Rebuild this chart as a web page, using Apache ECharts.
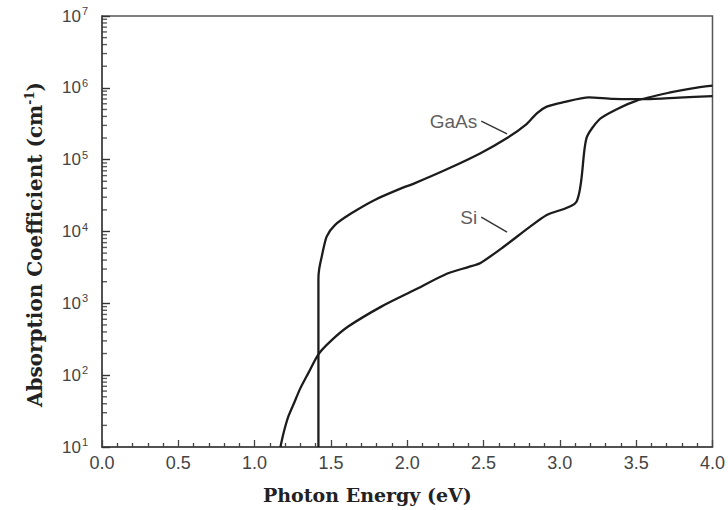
<!DOCTYPE html>
<html>
<head>
<meta charset="utf-8">
<script src="https://cdn.jsdelivr.net/npm/echarts@6/dist/echarts.min.js"></script>
<style>
html,body{margin:0;padding:0;background:#fff;}
#chart{width:728px;height:510px;}
</style>
</head>
<body>
<div id="chart"></div>
<script>
// ---- data ----
const gaasEnergy = [1.418, 1.418, 1.423, 1.44, 1.472, 1.526, 1.634, 1.787, 1.96, 2.047, 2.263, 2.48, 2.654, 2.784, 2.849, 2.914, 3.022, 3.19, 3.35, 3.564, 3.78, 4.0];
const gaasAlpha  = [10, 2200, 3000, 4500, 8500, 12300, 17900, 27500, 39800, 46800, 74000, 123000, 200000, 316000, 442000, 547000, 630000, 738000, 700000, 695000, 730000, 765000];

const siEnergy = [1.169, 1.19, 1.22, 1.26, 1.30, 1.35, 1.418, 1.50, 1.613, 1.83, 2.047, 2.263, 2.40, 2.48, 2.632, 2.805, 2.914, 3.109, 3.174, 3.26, 3.37, 3.5, 3.716, 3.868, 4.0];
const siAlpha  = [10, 15.8, 26.3, 41.7, 66, 105, 195, 300, 475, 900, 1530, 2600, 3200, 3650, 6140, 11700, 17000, 26000, 198000, 365000, 500000, 660000, 855000, 984000, 1070000];

const xTickLabels = ['0.0','0.5','1.0','1.5','2.0','2.5','3.0','3.5','4.0'];
const yDecades = [1, 2, 3, 4, 5, 6, 7];

const curveNames = ['GaAs', 'Si'];
const gaasLeader = [[2.485, 345000], [2.654, 228000]];
const siLeader   = [[2.485, 15900], [2.654, 9800]];

// minor tick values for the log axis (2..9 x 10^n)
const yMinorTicks = [];
for (let d = 1; d < 7; d++) {
  for (let k = 2; k <= 9; k++) yMinorTicks.push(k * Math.pow(10, d));
}

const zip = (a, b) => a.map((v, i) => [v, b[i]]);

const chart = echarts.init(document.getElementById('chart'), null, {renderer: 'svg'});

const tickFont = {fontFamily: 'Liberation Sans, Arial, sans-serif', fontSize: 18, color: '#444'};
const titleFont = {fontFamily: 'DejaVu Serif', fontWeight: 'bold', fontSize: 19, color: '#222'};
const frameColor = '#444';

chart.setOption({
  animation: false,
  backgroundColor: '#fff',
  title: {
    text: 'Photon Energy (eV)',
    left: 263,
    top: 485,
    padding: 0,
    textStyle: titleFont
  },
  grid: {
    left: 102, right: 11, top: 16, bottom: 63,
    show: true, borderColor: '#555', borderWidth: 1.5, backgroundColor: 'transparent'
  },
  xAxis: {
    type: 'value', min: 0, max: 4, interval: 0.5,
    axisLine: {show: true, lineStyle: {color: frameColor, width: 1.5}},
    axisTick: {show: true, inside: true, length: 7, lineStyle: {color: frameColor, width: 1.3}},
    minorTick: {show: true, splitNumber: 5, length: 4, lineStyle: {color: frameColor, width: 1.3}},
    splitLine: {show: false},
    axisLabel: Object.assign({margin: 7, formatter: (v) => xTickLabels[Math.round(v / 0.5)]}, tickFont)
  },
  yAxis: {
    type: 'log', logBase: 10, min: 10, max: 1e7,
    axisLine: {show: true, lineStyle: {color: frameColor, width: 1.5}},
    axisTick: {show: true, inside: true, length: 8, lineStyle: {color: '#333', width: 1.4}},
    minorTick: {show: false},
    splitLine: {show: false},
    name: '{t|Absorption Coefficient (cm}{s|-1}{t|)}',
    nameLocation: 'middle',
    nameRotate: 90,
    nameGap: 56,
    nameTextStyle: {
      padding: [0, 26, 0, 0],
      rich: {
        t: Object.assign({}, titleFont, {fontSize: 20}),
        s: {fontFamily: 'DejaVu Serif', fontWeight: 'bold', fontSize: 12, color: '#222', padding: [0, 0, 10, 0]}
      }
    },
    axisLabel: {
      margin: 14,
      formatter: (v) => {
        const e = Math.round(Math.log10(v));
        return yDecades.indexOf(e) >= 0 ? '{b|10}{s|' + e + '}' : '';
      },
      rich: {
        b: {fontFamily: 'Liberation Sans, Arial, sans-serif', fontSize: 17, color: '#444'},
        s: {fontFamily: 'Liberation Sans, Arial, sans-serif', fontSize: 11, color: '#444', padding: [0, 0, 10, 1]}
      }
    }
  },
  series: [
    {
      name: 'yMinorTicks',
      type: 'scatter',
      silent: true,
      data: yMinorTicks.map(v => [0, v]),
      symbol: 'rect',
      symbolSize: [5, 1.4],
      symbolOffset: [2.5, 0],
      itemStyle: {color: '#333'},
      clip: false,
      z: 5
    },
    {
      name: curveNames[0],
      type: 'line',
      data: zip(gaasEnergy, gaasAlpha),
      showSymbol: false,
      smooth: 0.25,
      lineStyle: {color: '#1c1c1c', width: 2.3},
      z: 3
    },
    {
      name: curveNames[1],
      type: 'line',
      data: zip(siEnergy, siAlpha),
      showSymbol: false,
      smooth: 0.25,
      lineStyle: {color: '#1c1c1c', width: 2.3},
      z: 3
    },
    {
      type: 'line', data: gaasLeader, showSymbol: false,
      lineStyle: {color: '#333', width: 1.4}
    },
    {
      type: 'line', data: siLeader, showSymbol: false,
      lineStyle: {color: '#333', width: 1.4}
    },
    {
      type: 'scatter',
      symbolSize: 0,
      data: [
        {value: gaasLeader[0], label: {formatter: curveNames[0]}},
        {value: siLeader[0], label: {formatter: curveNames[1]}}
      ],
      label: {
        show: true, position: 'left', distance: 4,
        fontFamily: 'Liberation Sans, Arial, sans-serif', fontSize: 19, color: '#333'
      }
    }
  ]
});
</script>
</body>
</html>
